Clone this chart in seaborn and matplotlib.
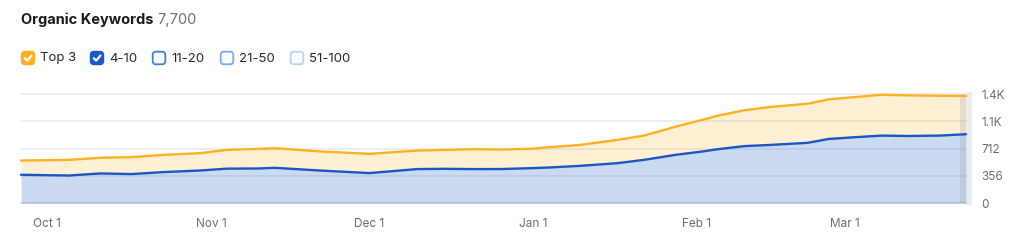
import matplotlib
matplotlib.use("Agg")
import matplotlib.pyplot as plt
import matplotlib.dates as mdates
from matplotlib.patches import FancyBboxPatch
from matplotlib.ticker import FuncFormatter
import numpy as np
import pandas as pd
import seaborn as sns

# ---------------- data ----------------
dates = pd.to_datetime([
    "2022-09-26", "2022-10-05", "2022-10-11", "2022-10-17", "2022-10-23",
    "2022-10-30", "2022-11-04", "2022-11-10", "2022-11-13", "2022-11-22",
    "2022-12-01", "2022-12-10", "2022-12-15", "2022-12-21", "2022-12-26",
    "2023-01-01", "2023-01-04", "2023-01-10", "2023-01-17", "2023-01-22",
    "2023-01-28", "2023-02-02", "2023-02-05", "2023-02-10", "2023-02-15",
    "2023-02-22", "2023-02-26", "2023-03-03", "2023-03-08", "2023-03-13",
    "2023-03-19", "2023-03-24",
])
# stacked top edge (Top 3 on top of 4-10)
top3_line = [556, 565, 592, 601, 631, 653, 696, 709, 718, 674,
             644, 687, 695, 705, 700, 712, 731, 761, 827, 883,
             1000, 1088, 1144, 1215, 1258, 1301, 1358, 1388, 1418, 1410,
             1405, 1401]
pos_4_10 = [370, 360, 387, 379, 405, 426, 450, 452, 461, 424,
            392, 444, 448, 444, 445, 457, 465, 487, 522, 565,
            631, 674, 705, 745, 761, 788, 839, 862, 883, 878,
            883, 901]

y_ticks = [0, 356, 712, 1068, 1424]
title = "Organic Keywords"
total_label = "7,700"
legend_labels = ["Top 3", "4-10", "11-20", "21-50", "51-100"]

# ---------------- styling ----------------
sns.set_style("white")
plt.rcParams["font.family"] = ["Inter", "DejaVu Sans"]

ORANGE = "#ffb023"
ORANGE_FILL = "#fff0d3"
BLUE = "#1b57c2"
BLUE_FILL = "#c9daf1"
GREY_TXT = "#6c6e79"

fig = plt.figure(figsize=(10.24, 2.52), dpi=100)
ax = fig.add_axes([21 / 1024, 49 / 252, 945 / 1024, 108.7 / 252])

df = pd.DataFrame({"date": dates, "top": top3_line, "mid": pos_4_10})

ax.fill_between(df["date"], 0, df["mid"], color=BLUE_FILL, lw=0, zorder=1)
ax.fill_between(df["date"], df["mid"], df["top"], color=ORANGE_FILL, lw=0, zorder=1)

# grid lines over the fills
for v in y_ticks:
    ax.axhline(v, color=(0.45, 0.48, 0.62), alpha=0.16 if v else 0.35,
               lw=1.1, zorder=1.5, clip_on=False)

sns.lineplot(data=df, x="date", y="top", color=ORANGE, lw=1.7, ax=ax,
             zorder=3, clip_on=False)
sns.lineplot(data=df, x="date", y="mid", color=BLUE, lw=1.7, ax=ax,
             zorder=3, clip_on=False)

last = df["date"].iloc[-1]
ax.axvspan(last - pd.Timedelta(days=1.1), last, color="#8e99a8", alpha=0.22,
           lw=0, zorder=2.5)
ax.axvspan(last, last + pd.Timedelta(days=1.1), ymin=-0.02, ymax=1.02,
           color="#e9ecef", lw=0, zorder=0, clip_on=False)

ax.set_xlim(df["date"].iloc[0], last)
ax.set_ylim(0, y_ticks[-1])
ax.set_xlabel("")
ax.set_ylabel("")
for s in ax.spines.values():
    s.set_visible(False)

ax.xaxis.set_major_locator(mdates.MonthLocator(bymonthday=1))
ax.xaxis.set_major_formatter(mdates.DateFormatter("%b 1"))
ax.yaxis.tick_right()
ax.set_yticks(y_ticks)
ax.yaxis.set_major_formatter(FuncFormatter(
    lambda v, p: f"{v/1000:.1f}K" if v >= 1000 else f"{int(v)}"))
ax.tick_params(axis="x", length=0, pad=11, labelsize=8.5, labelcolor=GREY_TXT)
ax.tick_params(axis="y", length=0, pad=11, labelsize=8.5, labelcolor=GREY_TXT)
for lbl in ax.get_yticklabels():
    lbl.set_horizontalalignment("left")
ax.grid(False)

# ---------------- header & legend in pixel coords ----------------
ov = fig.add_axes([0, 0, 1, 1], zorder=-1)
ov.set_xlim(0, 1024)
ov.set_ylim(252, 0)
ov.axis("off")
ov.patch.set_alpha(0)

t1 = ov.text(21, 20, title, fontsize=10.5, fontweight="bold", color="#171a22",
             va="center", ha="left")
fig.canvas.draw()
bb = t1.get_window_extent(renderer=fig.canvas.get_renderer())
ov.text(bb.x1 + 4, 20, total_label, fontsize=10.5, color=GREY_TXT,
        va="center", ha="left")

box_x = [21, 90, 152, 220, 290]
text_x = [40, 109, 171, 239, 309]
box_face = [ORANGE, "#1a5ac4", "white", "white", "white"]
box_edge = [ORANGE, "#1a5ac4", "#3f7fe0", "#76aaf2", "#b7d5fa"]
checked = [True, True, False, False, False]
by, bs = 51, 14
for lbl, bx, tx, fc, ec, ck in zip(legend_labels, box_x, text_x, box_face,
                                   box_edge, checked):
    ov.add_patch(FancyBboxPatch((bx + 0.7, by + 0.7), bs - 1.4, bs - 1.4,
                                boxstyle="round,pad=0,rounding_size=3",
                                fc=fc, ec=ec, lw=1.3))
    if ck:
        ov.plot([bx + 3.8, bx + 6.2, bx + 10.4], [by + 7.3, by + 9.6, by + 4.6],
                color="white", lw=1.6, solid_capstyle="round",
                solid_joinstyle="round")
    ov.text(tx, by + bs / 2 + 0.5, lbl, fontsize=9.5, color="#272a33",
            va="center", ha="left")

fig.savefig("out.png", dpi=100)
